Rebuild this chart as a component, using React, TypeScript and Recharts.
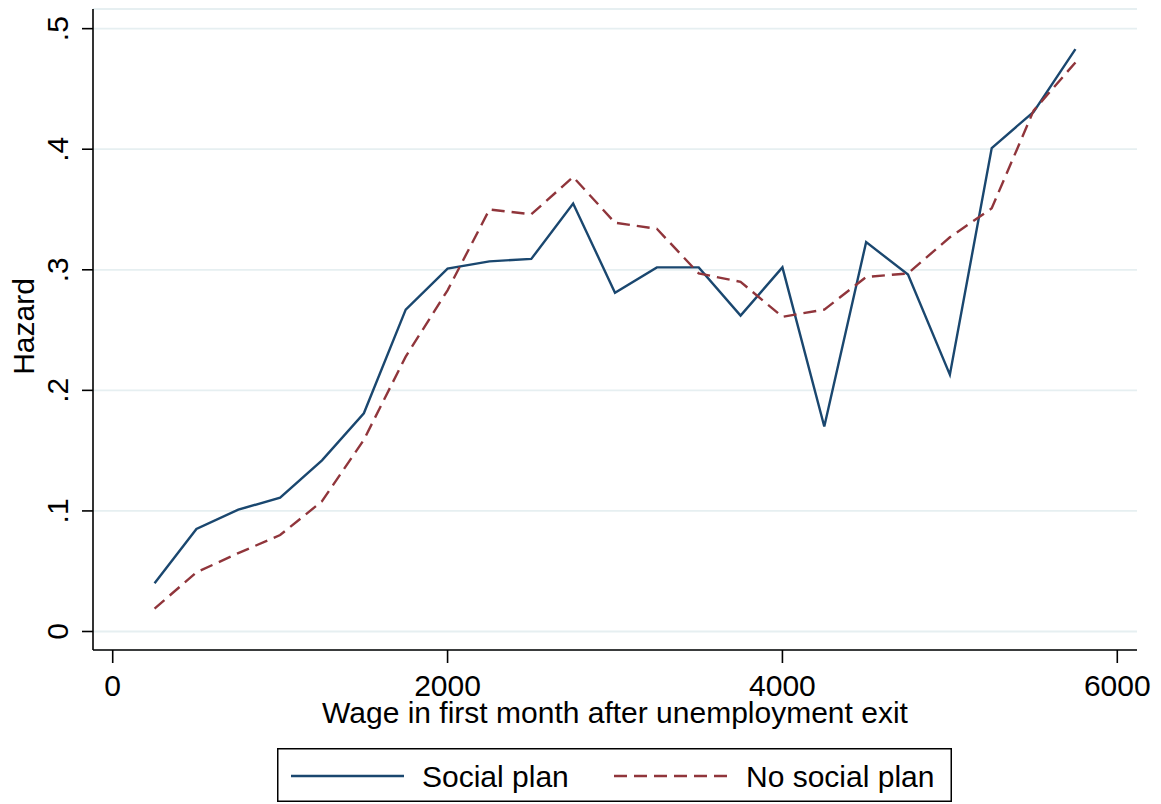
import React from "react";
import { LineChart, Line, XAxis, YAxis, CartesianGrid, Legend } from "recharts";

// Exit wage bins (midpoints, in currency units)
const wages = [
  250, 500, 750, 1000, 1250, 1500, 1750, 2000, 2250, 2500, 2750, 3000,
  3250, 3500, 3750, 4000, 4250, 4500, 4750, 5000, 5250, 5500, 5750,
];

// Hazard by wage bin, workers covered by a social plan
const socialPlan = [
  0.040, 0.085, 0.101, 0.111, 0.142, 0.181, 0.267, 0.301, 0.307, 0.309, 0.355, 0.281,
  0.302, 0.302, 0.262, 0.302, 0.170, 0.323, 0.296, 0.213, 0.401, 0.431, 0.483,
];

// Hazard by wage bin, workers without a social plan
const noSocialPlan = [
  0.019, 0.049, 0.065, 0.080, 0.108, 0.159, 0.228, 0.283, 0.350, 0.346, 0.377, 0.339,
  0.334, 0.297, 0.290, 0.261, 0.267, 0.294, 0.297, 0.327, 0.351, 0.432, 0.472,
];

const xTicks = [0, 2000, 4000, 6000];
const yTicks = [0, 0.1, 0.2, 0.3, 0.4, 0.5];
const seriesNames = ["Social plan", "No social plan"];
const xTitle = "Wage in first month after unemployment exit";
const yTitle = "Hazard";

const data = wages.map((w, i) => ({
  wage: w,
  social: socialPlan[i],
  noSocial: noSocialPlan[i],
}));

const FONT = "'Liberation Sans', Arial, Helvetica, sans-serif";
const FONT_SIZE = 30;
const NAVY = "#1a476f";
const MAROON = "#90353b";
const GRID = "#e6eff1";
const DASH = "13 7";
const LINE_W = 2.4;

const series = [
  { key: "social", name: seriesNames[0], color: NAVY, dash: undefined as string | undefined },
  { key: "noSocial", name: seriesNames[1], color: MAROON, dash: DASH },
];

const fmtY = (v: number) => (v === 0 ? "0" : String(Math.round(v * 10) / 10).replace(/^0/, ""));

const XTick = (props: any) => {
  const { x, y, payload } = props;
  return (
    <text x={x} y={y + 33} textAnchor="middle" fontFamily={FONT} fontSize={FONT_SIZE} fill="#000">
      {String(payload.value)}
    </text>
  );
};

const YTick = (props: any) => {
  const { x, y, payload } = props;
  const bx = x - 14;
  return (
    <text
      x={bx}
      y={y}
      transform={`rotate(-90, ${bx}, ${y})`}
      textAnchor="middle"
      fontFamily={FONT}
      fontSize={FONT_SIZE}
      fill="#000"
    >
      {fmtY(payload.value)}
    </text>
  );
};

const XTitle = (props: any) => {
  const vb = props.viewBox || {};
  const cx = vb.x + vb.width / 2;
  return (
    <text x={cx} y={vb.y + 73} textAnchor="middle" fontFamily={FONT} fontSize={FONT_SIZE} fill="#000">
      {xTitle}
    </text>
  );
};

const YTitle = (props: any) => {
  const vb = props.viewBox || {};
  const bx = 34;
  const cy = vb.y + vb.height / 2 - 3;
  return (
    <text
      x={bx}
      y={cy}
      transform={`rotate(-90, ${bx}, ${cy})`}
      textAnchor="middle"
      fontFamily={FONT}
      fontSize={FONT_SIZE}
      fill="#000"
    >
      {yTitle}
    </text>
  );
};

const LegendBox = () => {
  const w = 675;
  const h = 54;
  const cy = 28;
  return (
    <svg width={w} height={h} style={{ display: "block" }}>
      <rect x={0.75} y={0.75} width={w - 1.5} height={h - 1.5} fill="#fff" stroke="#000" strokeWidth={1.5} />
      <line x1={14} y1={cy} x2={127} y2={cy} stroke={series[0].color} strokeWidth={LINE_W} />
      <text x={145} y={39} fontFamily={FONT} fontSize={FONT_SIZE} fill="#000">
        {series[0].name}
      </text>
      <line
        x1={337}
        y1={cy}
        x2={451}
        y2={cy}
        stroke={series[1].color}
        strokeWidth={LINE_W}
        strokeDasharray={series[1].dash}
      />
      <text x={469} y={39} fontFamily={FONT} fontSize={FONT_SIZE} fill="#000">
        {series[1].name}
      </text>
    </svg>
  );
};

export default function App() {
  return (
    <div style={{ position: "absolute", left: 0, top: 0, width: 1161, height: 804, background: "#fff" }}>
      <LineChart
        width={1161}
        height={804}
        data={data}
        margin={{ top: 9, right: 24, left: 0, bottom: 0 }}
      >
        <CartesianGrid horizontal vertical={false} stroke={GRID} strokeWidth={1.8} />
        <XAxis
          dataKey="wage"
          type="number"
          domain={[-117.7, 6117.7]}
          allowDataOverflow
          ticks={xTicks}
          height={154}
          tickSize={13}
          tickMargin={0}
          tickLine={{ stroke: "#000", strokeWidth: 1.6 }}
          axisLine={{ stroke: "#000", strokeWidth: 1.6 }}
          tick={<XTick />}
          label={<XTitle />}
        />
        <YAxis
          type="number"
          domain={[-0.01535, 0.5163]}
          allowDataOverflow
          ticks={yTicks}
          width={93}
          tickSize={11}
          tickMargin={0}
          tickLine={{ stroke: "#000", strokeWidth: 1.6 }}
          axisLine={{ stroke: "#000", strokeWidth: 1.6 }}
          tick={<YTick />}
          label={<YTitle />}
        />
        {series.map((s) => (
          <Line
            key={s.key}
            dataKey={s.key}
            name={s.name}
            type="linear"
            stroke={s.color}
            strokeWidth={LINE_W}
            strokeDasharray={s.dash}
            dot={false}
            activeDot={false}
            isAnimationActive={false}
          />
        ))}
        <Legend
          layout="vertical"
          align="center"
          verticalAlign="middle"
          content={<LegendBox />}
          wrapperStyle={{ left: 277, top: 748, width: 675, height: 54, margin: 0, padding: 0 }}
        />
      </LineChart>
    </div>
  );
}
